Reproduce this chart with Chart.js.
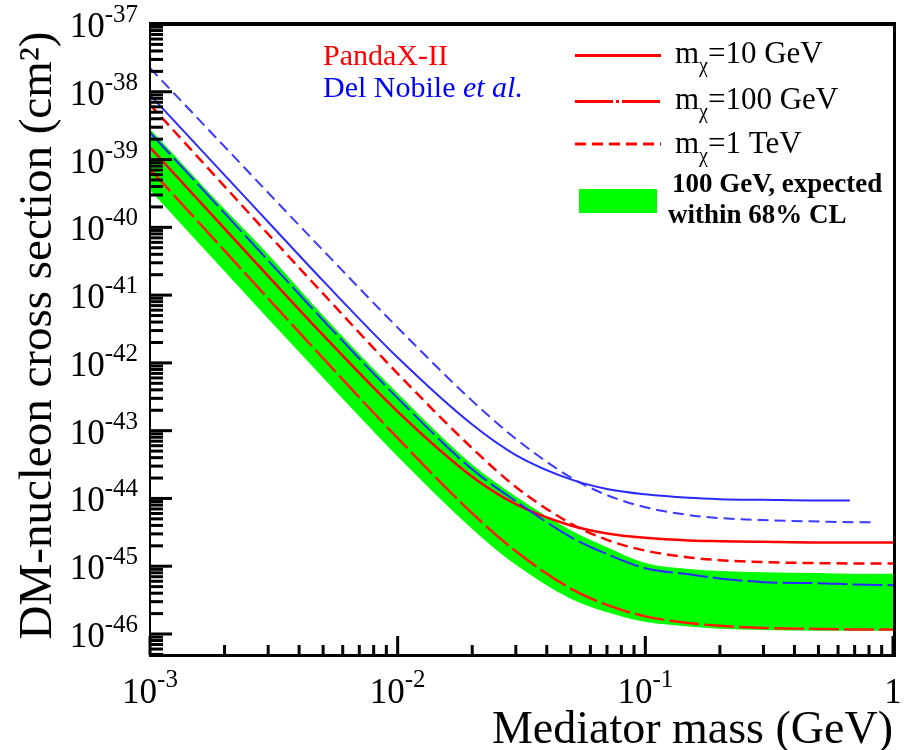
<!DOCTYPE html>
<html>
<head>
<meta charset="utf-8">
<script src="https://cdn.jsdelivr.net/npm/chart.js@4.4.1/dist/chart.umd.min.js"></script>
<style>
  html, body { margin: 0; padding: 0; background: #fff; }
  #wrap { width: 904px; height: 750px; }
</style>
</head>
<body>
<div id="wrap"><canvas id="chart" width="904" height="750"></canvas></div>
<script>
// mediator mass (GeV)
var massX = [0.001, 0.002, 0.003, 0.005, 0.01, 0.02, 0.03, 0.05, 0.07, 0.1, 0.15, 0.2, 0.3, 0.5, 0.7, 1];
var massXDelNobile10 = [0.001, 0.002, 0.003, 0.005, 0.01, 0.02, 0.03, 0.05, 0.07, 0.1, 0.15, 0.2, 0.3, 0.5, 0.67];
var massXDelNobile1T = [0.001, 0.002, 0.003, 0.005, 0.01, 0.02, 0.03, 0.05, 0.07, 0.1, 0.15, 0.2, 0.3, 0.5, 0.7, 0.83];

// cross sections (cm^2)
var pandaX10 = [1.51e-39, 9.55e-41, 1.91e-41, 2.57e-42, 1.91e-43, 2.09e-44, 8.22e-45, 3.98e-45, 3.05e-45, 2.63e-45, 2.40e-45, 2.34e-45, 2.29e-45, 2.24e-45, 2.24e-45, 2.24e-45];
var pandaX100 = [7.24e-40, 4.52e-41, 8.91e-42, 1.17e-42, 7.76e-44, 6.03e-45, 1.66e-45, 4.68e-46, 2.69e-46, 1.82e-46, 1.45e-46, 1.32e-46, 1.23e-46, 1.19e-46, 1.17e-46, 1.17e-46];
var pandaX1T = [6.46e-39, 4.03e-40, 7.94e-41, 1.05e-41, 6.97e-43, 5.50e-44, 1.48e-44, 4.27e-45, 2.45e-45, 1.70e-45, 1.35e-45, 1.23e-45, 1.15e-45, 1.11e-45, 1.10e-45, 1.10e-45];
var delNobile10 = [9.02e-39, 5.89e-40, 1.20e-40, 1.62e-41, 1.20e-42, 1.23e-43, 4.37e-44, 1.91e-44, 1.38e-44, 1.15e-44, 1.02e-44, 9.77e-45, 9.55e-45, 9.33e-45, 9.33e-45];
var delNobile100 = [2.51e-39, 1.62e-40, 3.24e-41, 4.27e-42, 3.02e-43, 2.69e-44, 9.12e-45, 2.69e-45, 1.51e-45, 9.33e-46, 7.59e-46, 6.61e-46, 5.82e-46, 5.62e-46, 5.37e-46, 5.25e-46];
var delNobile1T = [2.24e-38, 1.55e-39, 3.24e-40, 4.57e-41, 3.31e-42, 2.75e-43, 7.59e-44, 2.04e-44, 1.12e-44, 7.41e-45, 5.69e-45, 5.13e-45, 4.79e-45, 4.57e-45, 4.47e-45, 4.47e-45];
var expectedUpper = [2.82e-39, 1.86e-40, 3.98e-41, 5.01e-42, 3.55e-43, 3.16e-44, 1.07e-44, 3.39e-45, 1.91e-45, 1.12e-45, 9.12e-46, 8.51e-46, 8.13e-46, 7.94e-46, 7.76e-46, 7.76e-46];
var expectedLower = [3.55e-40, 2.24e-41, 4.47e-42, 6.03e-43, 4.17e-44, 3.55e-45, 1.05e-45, 3.31e-46, 2.09e-46, 1.51e-46, 1.29e-46, 1.20e-46, 1.15e-46, 1.12e-46, 1.12e-46, 1.12e-46];

// tick labels
var yTickExp = [-37, -38, -39, -40, -41, -42, -43, -44, -45, -46];
var xTickExp = [-3, -2, -1, 0];
var xTickLabels = [['10', '-3'], ['10', '-2'], ['10', '-1'], ['1', '']];

var SERIF = '"Liberation Serif", "Times New Roman", serif';

function pts(xs, ys) {
    var out = [];
    for (var i = 0; i < ys.length; i++) {
        out.push({ x: xs[i], y: ys[i] });
    }
    return out;
}

function lineSet(label, xs, ys, color, width, dash) {
    return {
        label: label,
        data: pts(xs, ys),
        borderColor: color,
        borderWidth: width,
        borderDash: dash,
        pointRadius: 0,
        fill: false,
        cubicInterpolationMode: 'monotone',
        order: 1
    };
}

// "10" with a raised exponent
function drawPow(ctx, base, sup, x, y, align, size, supSize, rise) {
    ctx.font = size + 'px ' + SERIF;
    var wb = ctx.measureText(base).width;
    ctx.font = supSize + 'px ' + SERIF;
    var ws = sup ? ctx.measureText(sup).width : 0;
    var total = wb + ws;
    var x0 = x;
    if (align === 'right') x0 = x - total;
    if (align === 'center') x0 = x - total / 2;
    ctx.textAlign = 'left';
    ctx.textBaseline = 'alphabetic';
    ctx.font = size + 'px ' + SERIF;
    ctx.fillText(base, x0, y);
    if (sup) {
        ctx.font = supSize + 'px ' + SERIF;
        ctx.fillText(sup, x0 + wb, y - rise);
    }
}

// m_chi=... legend label
function drawMchi(ctx, rest, x, y) {
    ctx.textAlign = 'left';
    ctx.textBaseline = 'alphabetic';
    ctx.font = '31px ' + SERIF;
    ctx.fillText('m', x, y);
    var wm = ctx.measureText('m').width;
    ctx.font = '20px ' + SERIF;
    ctx.fillText('\u03c7', x + wm, y + 9);
    var wc = ctx.measureText('\u03c7').width;
    ctx.font = '31px ' + SERIF;
    ctx.fillText(rest, x + wm + wc, y);
}

var decorPlugin = {
    id: 'decor',
    afterDraw: function (chart) {
        var ctx = chart.ctx;
        var a = chart.chartArea;
        var xs = chart.scales.x;
        var ys = chart.scales.y;
        ctx.save();
        ctx.fillStyle = '#000';

        // y axis ticks
        for (var e = -47; e <= -37; e++) {
            for (var k = 1; k <= 9; k++) {
                var v = k * Math.pow(10, e);
                if (v < ys.min || v > ys.max * 1.0001) continue;
                var py = ys.getPixelForValue(v);
                ctx.fillRect(a.left, py - 1.5, k === 1 ? 22 : 13, 3);
            }
        }
        // x axis ticks
        for (var e2 = -3; e2 <= 0; e2++) {
            for (var k2 = 1; k2 <= 9; k2++) {
                var v2 = k2 * Math.pow(10, e2);
                if (v2 < xs.min * 0.9999 || v2 > xs.max * 1.0001) continue;
                var px = xs.getPixelForValue(v2);
                var len = k2 === 1 ? 19 : 10;
                ctx.fillRect(px - 1.5, a.bottom - len, 3, len);
            }
        }

        // frame
        ctx.fillRect(a.left - 1, a.top, 2, a.bottom - a.top);
        ctx.fillRect(a.left - 1, a.bottom - 1, a.right - a.left + 4, 3);
        ctx.fillRect(a.left - 1, a.top - 2, a.right - a.left + 4, 4);
        ctx.fillRect(a.right, a.top - 2, 3, a.bottom - a.top + 3);

        // tick labels
        ctx.fillStyle = '#000';
        yTickExp.forEach(function (ex) {
            var py = ys.getPixelForValue(Math.pow(10, ex));
            drawPow(ctx, '10', String(ex), 138, py + 13, 'right', 35, 25, 15);
        });
        xTickExp.forEach(function (ex, i) {
            var px = xs.getPixelForValue(Math.pow(10, ex));
            drawPow(ctx, xTickLabels[i][0], xTickLabels[i][1], px, 703, 'center', 35, 25, 16);
        });

        // axis titles
        ctx.font = '46px ' + SERIF;
        ctx.textAlign = 'right';
        ctx.textBaseline = 'alphabetic';
        ctx.fillText('Mediator mass (GeV)', a.right, 743);
        ctx.save();
        ctx.translate(51, (a.top + a.bottom) / 2 - 4);
        ctx.rotate(-Math.PI / 2);
        ctx.textAlign = 'center';
        ctx.font = '47px ' + SERIF;
        ctx.fillText('DM-nucleon cross section (cm\u00b2)', 0, 0);
        ctx.restore();

        // experiment labels
        ctx.textAlign = 'left';
        ctx.font = '30px ' + SERIF;
        ctx.fillStyle = '#ff0000';
        ctx.fillText('PandaX-II', 323, 65);
        ctx.fillStyle = '#0000ff';
        ctx.fillText('Del Nobile ', 323, 97);
        var wd = ctx.measureText('Del Nobile ').width;
        ctx.font = 'italic 30px ' + SERIF;
        ctx.fillText('et al.', 323 + wd, 97);

        // legend
        ctx.strokeStyle = '#ff0000';
        ctx.lineWidth = 3;
        var legendDash = [[], [38, 3, 3, 3], [11, 6]];
        var legendY = [55.5, 101.5, 144];
        for (var j = 0; j < 3; j++) {
            ctx.setLineDash(legendDash[j]);
            ctx.beginPath();
            ctx.moveTo(575, legendY[j]);
            ctx.lineTo(661, legendY[j]);
            ctx.stroke();
        }
        ctx.setLineDash([]);
        ctx.fillStyle = '#00ff00';
        ctx.fillRect(579, 189, 78, 24);
        ctx.fillStyle = '#000';
        drawMchi(ctx, '=10 GeV', 675, 63);
        drawMchi(ctx, '=100 GeV', 675, 109);
        drawMchi(ctx, '=1 TeV', 675, 153);
        ctx.font = 'bold 27px ' + SERIF;
        ctx.fillText('100 GeV, expected', 672, 192);
        ctx.fillText('within 68% CL', 668, 223);
        ctx.restore();
    }
};

var ctx = document.getElementById('chart').getContext('2d');
var chart = new Chart(ctx, {
    type: 'line',
    data: {
        datasets: [
            lineSet('Del Nobile 10 GeV', massXDelNobile10, delNobile10, '#2a2aff', 2, []),
            lineSet('Del Nobile 100 GeV', massX, delNobile100, '#2a2aff', 2, [30, 5]),
            lineSet('Del Nobile 1 TeV', massXDelNobile1T, delNobile1T, '#3a3aff', 2, [11, 6]),
            lineSet('PandaX-II 10 GeV', massX, pandaX10, '#ff0000', 2.5, []),
            lineSet('PandaX-II 100 GeV', massX, pandaX100, '#ff1a00', 2.5, [30, 5]),
            lineSet('PandaX-II 1 TeV', massX, pandaX1T, '#ff0000', 2.5, [11, 6]),
            {
                label: 'expected upper',
                data: pts(massX, expectedUpper),
                borderWidth: 0,
                borderColor: '#00ff00',
                backgroundColor: '#00ff00',
                pointRadius: 0,
                fill: '+1',
                cubicInterpolationMode: 'monotone',
                order: 5
            },
            {
                label: 'expected lower',
                data: pts(massX, expectedLower),
                borderWidth: 0,
                borderColor: '#00ff00',
                pointRadius: 0,
                fill: false,
                cubicInterpolationMode: 'monotone',
                order: 6
            }
        ]
    },
    options: {
        responsive: false,
        animation: false,
        devicePixelRatio: 1,
        layout: { padding: { left: 150, right: 11, top: 24, bottom: 95 } },
        plugins: {
            legend: { display: false },
            tooltip: { enabled: false },
            filler: { propagate: false }
        },
        scales: {
            x: { type: 'logarithmic', min: 0.001, max: 1, display: false },
            y: { type: 'logarithmic', min: 4.9e-47, max: 1e-37, display: false }
        }
    },
    plugins: [decorPlugin]
});
</script>
</body>
</html>
